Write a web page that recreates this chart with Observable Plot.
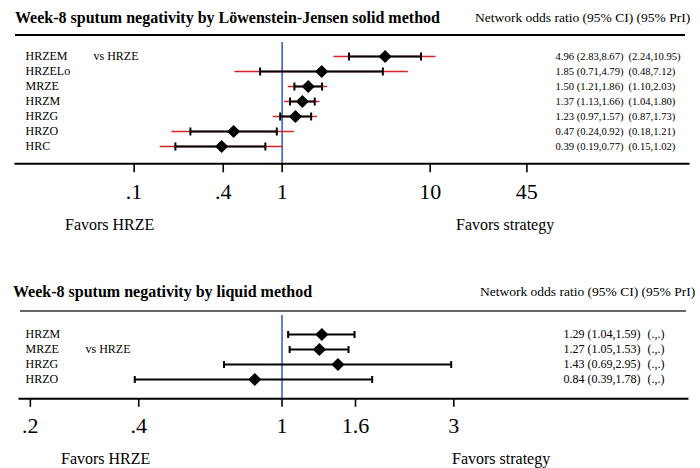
<!DOCTYPE html>
<html><head><meta charset="utf-8">
<script src="https://cdn.jsdelivr.net/npm/d3@7"></script>
<script src="https://cdn.jsdelivr.net/npm/@observablehq/plot@0.6"></script>
<style>
body{margin:0;background:#fff;}
#wrap{position:relative;width:700px;height:468px;overflow:hidden;font-family:"Liberation Serif","Times New Roman",serif;color:#000;background:#fff;}
.t{position:absolute;white-space:nowrap;line-height:16px;}
.title{font-weight:bold;font-size:16px;}
.hdr{font-size:13.5px;}
.fav{font-size:16px;}
.rule{position:absolute;height:2px;}
.panel{position:absolute;left:0;}
</style></head><body>
<div id="wrap">
  <div class="t title" style="left:15px;top:10px;">Week-8 sputum negativity by Löwenstein-Jensen solid method</div>
  <div class="t hdr" style="left:475px;top:10px;">Network odds ratio (95% CI) (95% PrI)</div>
  <div class="rule" style="left:15px;top:34px;width:670px;background:#000;"></div>
  <div class="panel" id="p1" style="top:36px;"></div>
  <div class="t fav" style="left:65px;top:217px;">Favors HRZE</div>
  <div class="t fav" style="left:456px;top:217px;">Favors strategy</div>

  <div class="t title" style="left:13px;top:284px;">Week-8 sputum negativity by liquid method</div>
  <div class="t hdr" style="left:480px;top:284px;">Network odds ratio (95% CI) (95% PrI)</div>
  <div class="rule" style="left:20px;top:310px;width:666px;background:#666;"></div>
  <div class="panel" id="p2" style="top:312px;"></div>
  <div class="t fav" style="left:61px;top:451px;">Favors HRZE</div>
  <div class="t fav" style="left:452px;top:451px;">Favors strategy</div>
</div>
<script>
// ---- Data: Löwenstein-Jensen solid method ----
const solidNames = ["HRZEM","HRZELo","MRZE","HRZM","HRZG","HRZO","HRC"];
const solidOR   = [4.96, 1.85, 1.50, 1.37, 1.23, 0.47, 0.39];
const solidCILo = [2.83, 0.71, 1.21, 1.13, 0.97, 0.24, 0.19];
const solidCIHi = [8.67, 4.79, 1.86, 1.66, 1.57, 0.92, 0.77];
const solidPILo = [2.24, 0.48, 1.10, 1.04, 0.87, 0.18, 0.15];
const solidPIHi = [10.95, 7.12, 2.03, 1.80, 1.73, 1.21, 1.02];
const solidTicks = [0.1, 0.4, 1, 10, 45];
const solidTickLabels = [".1", ".4", "1", "10", "45"];

// ---- Data: liquid method ----
const liquidNames = ["HRZM","MRZE","HRZG","HRZO"];
const liquidOR   = [1.29, 1.27, 1.43, 0.84];
const liquidCILo = [1.04, 1.05, 0.69, 0.39];
const liquidCIHi = [1.59, 1.53, 2.95, 1.78];
const liquidTicks = [0.2, 0.4, 1, 1.6, 3];
const liquidTickLabels = [".2", ".4", "1", "1.6", "3"];

const reference = "vs HRZE";
const f2 = v => v.toFixed(2);

const diamond = {draw(ctx, size){const r = Math.sqrt(size/Math.PI); ctx.moveTo(0,-r); ctx.lineTo(r,0); ctx.lineTo(0,r); ctx.lineTo(-r,0); ctx.closePath();}};
const capLine = {draw(ctx, size){const r = Math.sqrt(size/Math.PI); ctx.moveTo(0,-r); ctx.lineTo(0,r);}};

const BLUE = "#3a62c9", RED = "#d8232a";
const FONT = "'Liberation Serif','Times New Roman',serif";

function panel(cfg){
  const rows = cfg.names.map((name,i)=>({
    name, or: cfg.or[i], lo: cfg.lo[i], hi: cfg.hi[i],
    plo: cfg.plo ? cfg.plo[i] : null, phi: cfg.phi ? cfg.phi[i] : null,
    ci: `${f2(cfg.or[i])} (${f2(cfg.lo[i])},${f2(cfg.hi[i])})`,
    pi: cfg.plo ? `(${f2(cfg.plo[i])},${f2(cfg.phi[i])})` : "(.,.)"
  }));
  const tickRows = cfg.ticks.map((v,i)=>({v, label: cfg.tickLabels[i]}));
  const fmt = d => { const i = cfg.ticks.findIndex(t => Math.abs(t - d) < 1e-9); return i < 0 ? "" : cfg.tickLabels[i]; };
  const marks = [];
  marks.push(Plot.ruleX([1], {stroke: BLUE, strokeWidth: 1.6}));
  if (cfg.plo) marks.push(Plot.ruleY(rows, {y: "name", x1: "plo", x2: "phi", stroke: RED, strokeWidth: 1.6}));
  marks.push(Plot.ruleY(rows, {y: "name", x1: "lo", x2: "hi", stroke: "#000", strokeWidth: 2}));
  marks.push(Plot.dot(rows, {y: "name", x: "lo", symbol: capLine, r: cfg.capR, stroke: "#000", fill: "none", strokeWidth: 2}));
  marks.push(Plot.dot(rows, {y: "name", x: "hi", symbol: capLine, r: cfg.capR, stroke: "#000", fill: "none", strokeWidth: 2}));
  marks.push(Plot.dot(rows, {y: "name", x: "or", symbol: diamond, r: 6.6, fill: "#000", stroke: "none"}));
  marks.push(Plot.text(rows, {y: "name", text: "name", frameAnchor: "left", dx: cfg.labelDx, textAnchor: "start", fontSize: 12}));
  marks.push(Plot.text(rows.filter(d => d.name === cfg.vsRow), {y: "name", text: () => reference, frameAnchor: "left", dx: cfg.vsDx, textAnchor: "start", fontSize: 12}));
  marks.push(Plot.text(rows, {y: "name", text: "ci", frameAnchor: "left", dx: cfg.ciDx, textAnchor: "start", fontSize: cfg.valueSize}));
  marks.push(Plot.text(rows, {y: "name", text: "pi", frameAnchor: "left", dx: cfg.piDx, textAnchor: "start", fontSize: cfg.valueSize}));
  const xOpts = {type: "log", domain: cfg.domain, label: null};
  if (Plot.axisX) {
    marks.push(Plot.axisX(tickRows, {x: "v", text: "label", tickSize: cfg.tickSize, tickPadding: cfg.tickPadding, fontSize: 22, strokeWidth: 1.6, label: null}));
    marks.push(Plot.frame({anchor: "bottom", strokeWidth: 2}));
    xOpts.axis = null;
  } else {
    Object.assign(xOpts, {ticks: cfg.ticks, tickFormat: fmt, tickSize: cfg.tickSize, tickPadding: cfg.tickPadding, line: true});
  }
  return Plot.plot({
    width: 700, height: cfg.height,
    marginLeft: cfg.ml, marginRight: cfg.mr, marginTop: cfg.mt, marginBottom: cfg.mb,
    x: xOpts,
    y: {type: "point", domain: cfg.names, range: cfg.yRange, padding: 0, axis: null},
    style: {fontFamily: FONT, fontSize: "22px", color: "#000", background: "transparent", overflow: "visible"},
    marks
  });
}

document.getElementById("p1").appendChild(panel({
  names: solidNames, or: solidOR, lo: solidCILo, hi: solidCIHi, plo: solidPILo, phi: solidPIHi,
  ticks: solidTicks, tickLabels: solidTickLabels,
  domain: [0.0158, 556], height: 175, ml: 15, mr: 12, mt: 6, mb: 47.7,
  yRange: [19.5, 109.5], capR: 4, tickSize: 9, tickPadding: 11, valueSize: 10.6,
  labelDx: 10, vsRow: "HRZEM", vsDx: 78, ciDx: 540, piDx: 613
}));

document.getElementById("p2").appendChild(panel({
  names: liquidNames, or: liquidOR, lo: liquidCILo, hi: liquidCIHi, plo: null, phi: null,
  ticks: liquidTicks, tickLabels: liquidTickLabels,
  domain: [0.1866, 13.37], height: 135, ml: 19, mr: 13, mt: 3, mb: 48.7,
  yRange: [20.7, 68], capR: 3.5, tickSize: 8.5, tickPadding: 10, valueSize: 12,
  labelDx: 6, vsRow: "MRZE", vsDx: 66, ciDx: 544, piDx: 628
}));
</script>
</body></html>
